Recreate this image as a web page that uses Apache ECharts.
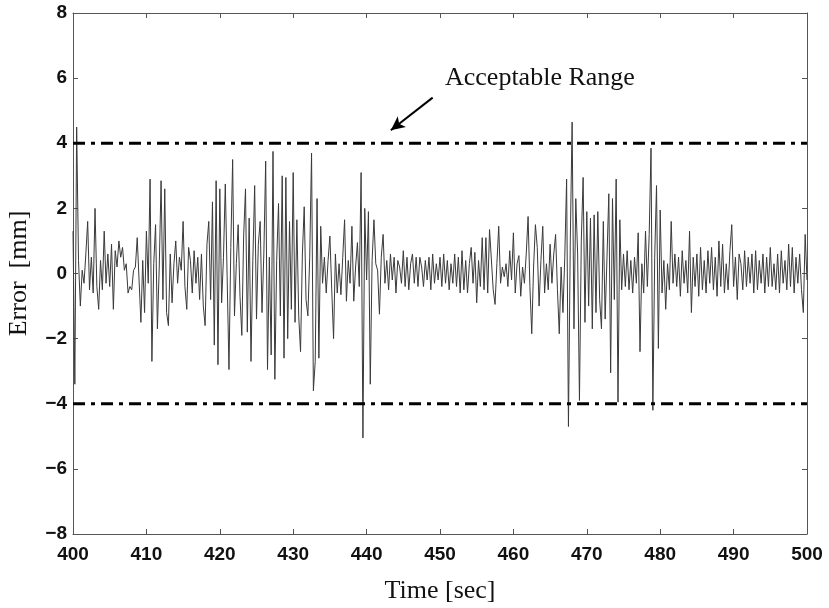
<!DOCTYPE html>
<html>
<head>
<meta charset="utf-8">
<script src="https://cdn.jsdelivr.net/npm/echarts@6/dist/echarts.min.js"></script>
<style>html,body{margin:0;padding:0;background:#fff}#c{width:829px;height:608px}</style>
</head>
<body>
<div id="c"></div>
<script>
// Time axis: samples every 0.25 s starting at 400 s
const startTime = 400;
const sampleStep = 0.25;
const xTicks = [400, 410, 420, 430, 440, 450, 460, 470, 480, 490, 500];
const yTicks = [-8, -6, -4, -2, 0, 2, 4, 6, 8];
const acceptableRange = [-4, 4];
const arrowFrom = [449.0, 5.4];
const arrowTo = [443.3, 4.4];

// Error [mm], one row per second (4 samples each)
const errorValues = [
  1.3, -3.4, 4.5, 0.4,
  -1.0, 0.1, -0.3, 0.6,
  1.6, -0.5, 0.5, -0.6,
  2.0, -0.4, -1.1, 0.4,
  -0.5, 1.3, -0.3, 0.6,
  -0.4, 0.9, -1.1, 0.7,
  0.2, 1.0, 0.5, 0.8,
  0.1, 0.3, -0.6, -0.4,
  -0.5, 0.1, 0.2, 1.1,
  -0.2, -1.5, 0.4, -1.2,
  1.3, -0.3, 2.9, -2.7,
  0.3, 1.5, -1.7, 0.2,
  2.85, -0.8, 2.6, -1.2,
  -1.6, 0.6, -0.9, 0.3,
  1.0, -0.3, 0.5, 0.1,
  1.6, -0.4, -1.1, 0.8,
  0.4, -0.6, 0.7, -0.3,
  0.5, -0.8, 0.6, -1.0,
  -1.6, 0.9, 1.6, -0.8,
  2.2, -2.2, 2.85, -2.8,
  2.6, -0.9, 0.5, 2.75,
  -0.1, -2.95, 0.8, 3.5,
  -1.3, 0.3, 1.5, -0.7,
  -1.9, 1.15, 2.6, -1.8,
  1.7, -2.7, 0.4, 2.7,
  -1.4, 0.9, 1.6, -1.2,
  0.6, 3.45, -2.95, 0.5,
  -2.5, 3.75, -3.25, 0.4,
  2.15, -1.3, 3.0, -2.6,
  2.95, -2.0, 1.6, -1.1,
  3.1, -1.5, 1.65, -1.3,
  -2.4, 0.6, 2.05, -0.8,
  -1.3, 0.5, 3.7, -3.6,
  -2.7, 2.3, -2.6, 1.45,
  -0.3, 0.5, -0.6, 0.4,
  1.15, -0.5, -2.0, 0.6,
  -0.6, 0.3, -0.65, 0.5,
  1.65, -0.85, 0.4, -0.3,
  1.45, -0.85, 0.2, 0.95,
  -0.4, 3.1, -5.05, 2.0,
  -0.2, 1.9, -3.4, 0.4,
  1.65, 0.3, 0.1, -1.25,
  0.5, 1.2, -0.3, 0.4,
  -0.5, 0.6, -0.2, 0.5,
  -0.6, 0.4, 0.2, -0.3,
  0.7, -0.4, 0.5, -0.5,
  0.3, 0.6, -0.3, 0.5,
  -0.4, 0.5, 0.2, -0.4,
  0.4, -0.2, 0.5, -0.5,
  0.6, -0.3, 0.3, -0.2,
  0.5, -0.4, 0.6, -0.3,
  0.4, -0.5, 0.3, -0.3,
  0.6, -0.4, 0.5, -0.6,
  0.7, -0.5, 0.4, -0.6,
  0.3, 0.8, -0.3, 0.65,
  -0.9, 0.4, -0.4, 1.1,
  -0.5, 1.1, -0.6, 1.35,
  1.4, -0.5, -0.95, 0.3,
  1.45, -0.3, 0.2, -0.1,
  0.3, -0.4, 0.7, -0.2,
  1.25, -0.6, 0.3, 0.55,
  -0.7, 0.2, -0.3, 0.6,
  1.75, -0.4, -1.85, 0.2,
  1.5, 0.8, -1.0, 0.4,
  1.45, -0.6, 0.3, -0.5,
  0.9, -0.3, 0.6, 1.2,
  -0.5, -1.85, 0.2, -1.2,
  0.5, 2.9, -4.7, 1.0,
  4.65, -1.7, 2.3, 0.6,
  -3.9, 1.0, 2.95, -1.5,
  1.9, -1.0, 1.7, -1.7,
  1.8, -1.2, 1.9, -0.8,
  -1.7, 1.6, -1.4, 0.5,
  2.45, -3.05, 2.3, -0.8,
  2.9, -3.95, 1.65, -0.5,
  0.6, -0.4, 0.7, -0.5,
  0.4, -0.6, 0.5, -0.3,
  1.25, -2.4, 0.3, -0.6,
  1.3, -0.4, 1.2, 3.85,
  -4.2, 0.5, 2.7, -2.3,
  1.95, -0.6, 0.4, -1.1,
  0.3, -0.5, 1.6, -0.3,
  0.6, -0.4, 0.5, -0.7,
  0.7, -0.3, 0.4, -0.6,
  1.3, -1.2, 0.5, -0.4,
  0.6, -0.7, 0.8, -0.5,
  0.4, -0.6, 0.7, -0.3,
  0.8, -0.5, 0.5, -0.7,
  1.0, -0.4, 0.9, -0.6,
  0.3, -0.5, 0.7, 1.5,
  -0.4, 0.5, -0.8, 0.6,
  0.3, -0.5, 0.7, -0.4,
  0.5, -0.3, 0.6, -0.6,
  0.7, -0.5, 0.4, -0.3,
  0.6, -0.6, 0.5, -0.4,
  0.8, -0.4, 0.3, -0.5,
  0.6, -0.6, 0.7, -0.3,
  0.4, -0.5, 0.9, -0.4,
  0.8, -0.6, 0.5, -0.3,
  0.6, -0.5, -1.2, 1.2,
  -0.2
];

const seriesData = errorValues.map((v, i) => [startTime + i * sampleStep, v]);
const xMin = xTicks[0], xMax = xTicks[xTicks.length - 1];
const yMin = yTicks[0], yMax = yTicks[yTicks.length - 1];

const axisCommon = {
  axisLine: { show: true, onZero: false, lineStyle: { color: '#555', width: 1 } },
  axisTick: { show: true, inside: true, length: 5, lineStyle: { color: '#555' } },
  splitLine: { show: false }
};
const minusFmt = v => String(v).replace('-', '\u2212');
const labelStyle = { fontFamily: 'Liberation Sans', fontWeight: 'bold', fontSize: 19, color: '#111', formatter: minusFmt };

const chart = echarts.init(document.getElementById('c'));
chart.setOption({
  animation: false,
  backgroundColor: '#fff',
  grid: { left: 73, right: 22, top: 13, bottom: 74, containLabel: false, outerBoundsMode: 'none' },
  xAxis: [
    Object.assign({
      type: 'value', min: xMin, max: xMax, interval: 10, position: 'bottom',
      name: 'Time [sec]', nameLocation: 'middle', nameGap: 44,
      nameTextStyle: { fontFamily: 'Liberation Serif', fontSize: 26, color: '#111' },
      axisLabel: Object.assign({ margin: 11 }, labelStyle)
    }, axisCommon),
    Object.assign({
      type: 'value', min: xMin, max: xMax, interval: 10, position: 'top',
      axisLabel: { show: false }
    }, axisCommon)
  ],
  yAxis: [
    Object.assign({
      type: 'value', min: yMin, max: yMax, interval: 2, position: 'left',
      name: 'Error  [mm]', nameLocation: 'middle', nameGap: 41,
      nameTextStyle: { fontFamily: 'Liberation Serif', fontSize: 26, color: '#111' },
      axisLabel: Object.assign({ margin: 6 }, labelStyle)
    }, axisCommon),
    Object.assign({
      type: 'value', min: yMin, max: yMax, interval: 2, position: 'right',
      axisLabel: { show: false }
    }, axisCommon)
  ],
  series: [
    {
      type: 'line', xAxisIndex: 0, yAxisIndex: 0,
      data: seriesData, showSymbol: false, symbol: 'none',
      lineStyle: { color: '#3a3a3a', width: 1 },
      z: 2,
      markLine: {
        silent: true, symbol: ['none', 'arrow'], symbolSize: [10, 14],
        lineStyle: { color: '#000', width: 2, type: 'solid' },
        label: { show: false },
        data: [[{ coord: arrowFrom }, { coord: arrowTo }]]
      }
    },
    ...acceptableRange.map(level => ({
      type: 'line', xAxisIndex: 0, yAxisIndex: 0,
      data: [[xMin, level], [xMax, level]], showSymbol: false, symbol: 'none',
      lineStyle: { color: '#000', width: 3, type: [12, 6, 4, 6] },
      z: 3
    }))
  ],
  graphic: [
    {
      type: 'text', left: 445, top: 65,
      style: { text: 'Acceptable Range', font: '26px "Liberation Serif"', fill: '#111' }
    }
  ]
});
</script>
</body>
</html>
